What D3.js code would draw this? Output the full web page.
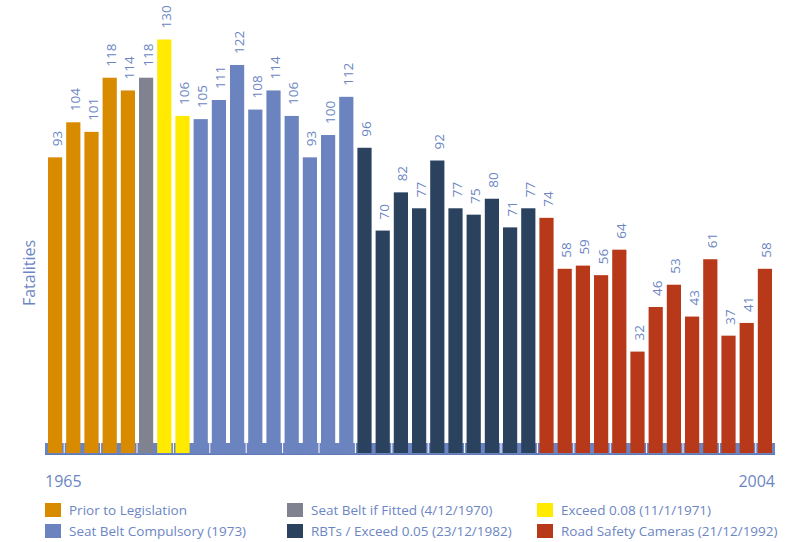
<!DOCTYPE html>
<html>
<head>
<meta charset="utf-8">
<script src="https://cdn.jsdelivr.net/npm/d3@7"></script>
<style>
  body { margin: 0; background: #fff; }
  svg { display: block; font-family: "Open Sans", "Noto Sans", sans-serif; }
</style>
</head>
<body>
<div id="chart"></div>
<script>
const years = d3.range(1965, 2005);
const fatalities = [93, 104, 101, 118, 114, 118, 130, 106, 105, 111, 122, 108, 114, 106, 93, 100, 112,
  96, 70, 82, 77, 92, 77, 75, 80, 71, 77,
  74, 58, 59, 56, 64, 32, 46, 53, 43, 61, 37, 41, 58];
// legislation period of each year
const periods = ["Prior to Legislation", "Prior to Legislation", "Prior to Legislation", "Prior to Legislation", "Prior to Legislation",
  "Seat Belt if Fitted (4/12/1970)",
  "Exceed 0.08 (11/1/1971)", "Exceed 0.08 (11/1/1971)",
  ...Array(9).fill("Seat Belt Compulsory (1973)"),
  ...Array(10).fill("RBTs / Exceed 0.05 (23/12/1982)"),
  ...Array(13).fill("Road Safety Cameras (21/12/1992)")];
const legendLabels = ["Prior to Legislation", "Seat Belt if Fitted (4/12/1970)", "Exceed 0.08 (11/1/1971)",
  "Seat Belt Compulsory (1973)", "RBTs / Exceed 0.05 (23/12/1982)", "Road Safety Cameras (21/12/1992)"];
const legendColors = ["#d98b00", "#80828f", "#ffea00", "#6b84c0", "#2b425f", "#b8391a"];

const data = years.map((y, i) => ({ year: y, value: fatalities[i], period: periods[i] }));

const width = 792, height = 542;
const textColor = "#6c86c4";

const svg = d3.select("#chart").append("svg")
  .attr("width", width)
  .attr("height", height);

const x = d3.scaleBand().domain(years).range([48, 772]).paddingInner(0.22).paddingOuter(0);
const y = d3.scaleLinear().domain([0, 130]).range([453.5, 39.5]);
const color = d3.scaleOrdinal().domain(legendLabels).range(legendColors);

// base band
svg.append("rect")
  .attr("x", 45).attr("y", 443)
  .attr("width", 730).attr("height", 12)
  .attr("fill", "#6b84c0");
svg.append("line")
  .attr("x1", 45).attr("x2", 775).attr("y1", 454.5).attr("y2", 454.5)
  .attr("stroke", "#5f79b8").attr("stroke-width", 1);

// bars
svg.selectAll(".bar")
  .data(data)
  .enter()
  .append("rect")
  .attr("class", "bar")
  .attr("x", d => x(d.year))
  .attr("y", d => y(d.value))
  .attr("width", x.bandwidth())
  .attr("height", d => 453 - y(d.value))
  .attr("fill", d => color(d.period));

// small white ticks in the band
svg.selectAll(".tick")
  .data(years.filter((d, i) => i % 2 === 1))
  .enter()
  .append("line")
  .attr("class", "tick")
  .attr("x1", d => x(d) - 2).attr("x2", d => x(d) - 2)
  .attr("y1", 443).attr("y2", 453)
  .attr("stroke", "#fff").attr("stroke-width", 1);

// value labels
svg.selectAll(".label")
  .data(data)
  .enter()
  .append("text")
  .attr("class", "label")
  .attr("transform", d => "translate(" + (x(d.year) + x.bandwidth() / 2 + 6.5) + "," + (y(d.value) - 11) + ") rotate(-90)")
  .text(d => d.value)
  .style("font-size", "13.5px")
  .style("fill", textColor);

// axis title
svg.append("text")
  .attr("transform", "translate(35,273) rotate(-90)")
  .attr("text-anchor", "middle")
  .text("Fatalities")
  .style("font-size", "16px")
  .style("fill", textColor);

svg.append("text")
  .attr("x", 45).attr("y", 487)
  .text(years[0])
  .style("font-size", "16px")
  .style("fill", textColor);
svg.append("text")
  .attr("x", 775).attr("y", 487)
  .attr("text-anchor", "end")
  .text(years[years.length - 1])
  .style("font-size", "16px")
  .style("fill", textColor);

// legend
const colX = [45, 287, 537];
const legend = svg.selectAll(".legend")
  .data(legendLabels)
  .enter()
  .append("g")
  .attr("class", "legend")
  .attr("transform", (d, i) => "translate(" + colX[i % 3] + "," + (503 + Math.floor(i / 3) * 21) + ")");

legend.append("rect")
  .attr("width", 16).attr("height", 14)
  .attr("fill", d => color(d));

legend.append("text")
  .attr("x", 24).attr("y", 12)
  .text(d => d)
  .style("font-size", "13.5px")
  .style("fill", textColor);
</script>
</body>
</html>
